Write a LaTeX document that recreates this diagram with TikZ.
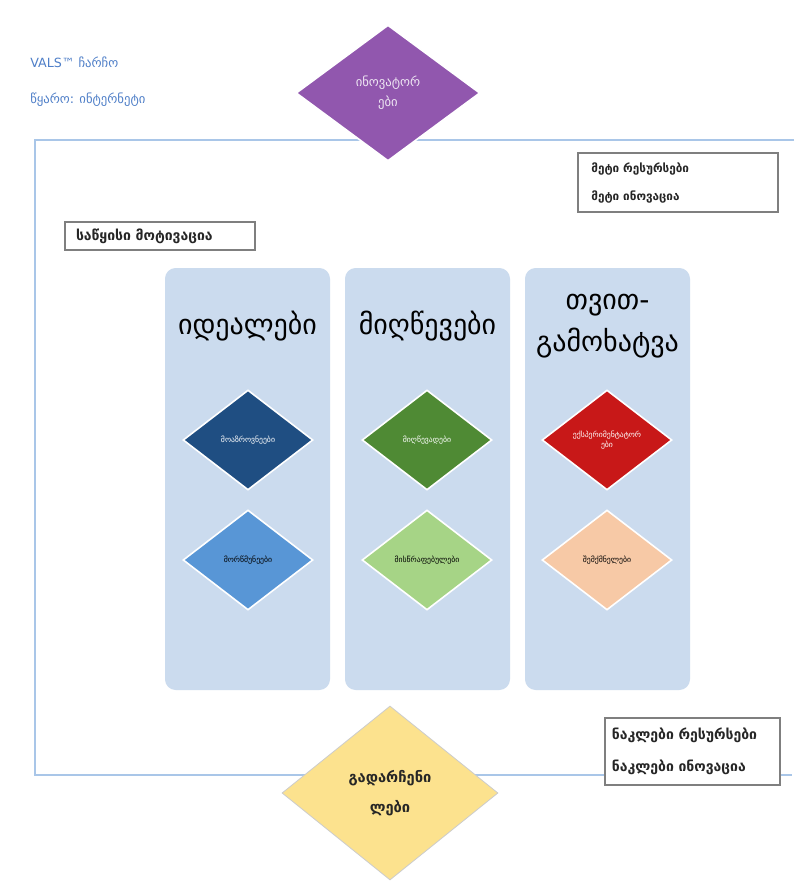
\documentclass[tikz,border=0pt]{standalone}
\usepackage{fontspec}
\setmainfont{DejaVu Sans}
\usetikzlibrary{shapes.geometric}
\definecolor{framecol}{HTML}{A9C6E8}
\definecolor{capcol}{HTML}{4F7FC8}
\definecolor{colfill}{HTML}{CBDBEE}
\definecolor{purp}{HTML}{9157AE}
\definecolor{dblue}{HTML}{1F4E82}
\definecolor{dgreen}{HTML}{4F8A34}
\definecolor{dred}{HTML}{C81818}
\definecolor{lblue}{HTML}{5896D6}
\definecolor{lgreen}{HTML}{A6D486}
\definecolor{peach}{HTML}{F7C9A6}
\definecolor{yell}{HTML}{FCE28E}
\definecolor{boxline}{HTML}{7F7F7F}
\definecolor{boxtext}{HTML}{262626}
\tikzset{
  dia/.style={diamond, inner sep=0pt, aspect=1.3, draw=white, line width=1.2pt, align=center},
  smalldia/.style={dia, minimum width=97.5pt, minimum height=75pt, font=\fontsize{5.8}{7}\selectfont},
  colbox/.style={rectangle, rounded corners=8pt, fill=colfill, minimum width=123.75pt, minimum height=316.5pt, inner sep=0pt},
  coltitle/.style={font=\fontsize{21}{31.5}\selectfont, align=center, text=black},
  infobox/.style={rectangle, draw=boxline, line width=0.9pt, fill=white, align=left, anchor=center, text=boxtext},
  captxt/.style={anchor=west, text=capcol, font=\fontsize{9.5}{11}\selectfont, inner sep=0pt}
}
\begin{document}
\begin{tikzpicture}[x=0.75pt,y=-0.75pt]
\useasboundingbox[fill=white] (0,0) rectangle (802,890);
% caption
\node[captxt] (cap1) at (30,62) {VALS™ ჩარჩო};
\node[captxt] (cap2) at (30,100) {წყარო: ინტერნეტი};
% frame
\draw[framecol, line width=0.8pt] (794,140) -- (35,140) -- (35,775) -- (792,775);
% columns
\node[colbox] (c1) at (247.5,479) {};
\node[colbox] (c2) at (427.5,479) {};
\node[colbox] (c3) at (607.5,479) {};
\node[coltitle] (t1) at (247.5,326) {იდეალები};
\node[coltitle] (t2) at (427.5,326) {მიღწევები};
\node[coltitle] (t3) at (607.5,326) {თვით-\\გამოხატვა};
% small diamonds
\node[smalldia, fill=dblue, text=white] (d1) at (248,440) {მოაზროვნეები};
\node[smalldia, fill=dgreen, text=white] (d2) at (427,440) {მიღწევადები};
\node[smalldia, fill=dred, text=white] (d3) at (607,440) {ექსპერიმენტატორ\\ები};
\node[smalldia, fill=lblue, text=black] (d4) at (248,560) {მორწმუნეები};
\node[smalldia, fill=lgreen, text=black] (d5) at (427,560) {მისწრაფებულები};
\node[smalldia, fill=peach, text=black] (d6) at (607,560) {შემქმნელები};
% top diamond
\node[dia, fill=purp, text=white!85!purp, minimum width=138pt, minimum height=102pt, font=\fontsize{9.5}{15}\selectfont] (top) at (388,93) {ინოვატორ\\ები};
% bottom diamond
\node[dia, fill=yell, text=boxtext, draw=boxline!40, line width=0.6pt, minimum width=162pt, minimum height=130.5pt, font=\bfseries\fontsize{11}{22.5}\selectfont] (bot) at (390,793) {გადარჩენი\\ლები};
% info boxes
\node[infobox, minimum width=150pt, minimum height=44.25pt, text width=130pt, inner xsep=10pt, font=\bfseries\fontsize{8.8}{21}\selectfont] (more) at (678,182.5) {მეტი რესურსები\\მეტი ინოვაცია};
\node[infobox, minimum width=142.5pt, minimum height=21pt, text width=126pt, inner xsep=8pt, font=\bfseries\fontsize{10.5}{12}\selectfont] (mot) at (160,236) {საწყისი მოტივაცია};
\node[infobox, minimum width=131.25pt, minimum height=50.25pt, text width=121pt, inner xsep=5pt, font=\bfseries\fontsize{10.5}{24}\selectfont] (less) at (692.5,751.5) {ნაკლები რესურსები\\ნაკლები ინოვაცია};
\end{tikzpicture}
\end{document}
